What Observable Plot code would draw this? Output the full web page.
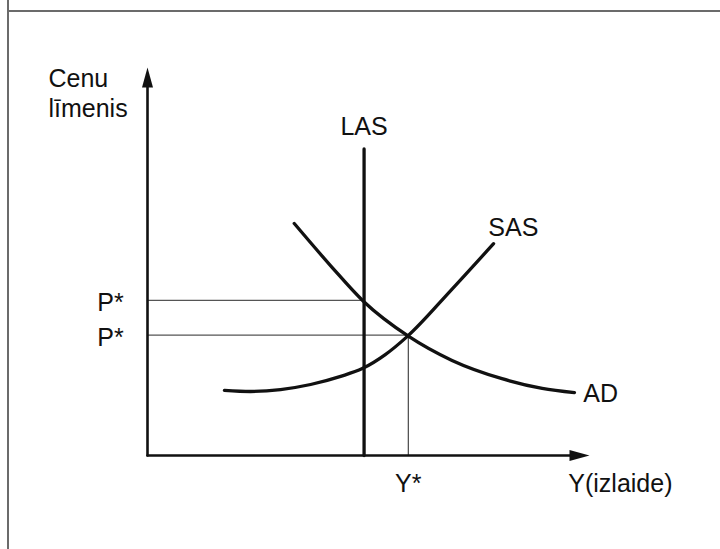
<!DOCTYPE html>
<html>
<head>
<meta charset="utf-8">
<script src="https://cdn.jsdelivr.net/npm/d3@7"></script>
<script src="https://cdn.jsdelivr.net/npm/@observablehq/plot@0.6"></script>
<style>
  html, body { margin: 0; padding: 0; background: #fff; }
  #wrap { position: relative; width: 720px; height: 549px; overflow: hidden; }
  #wrap svg { position: absolute; left: 0; top: 0; }
  .fv { position: absolute; left: 7px; top: 0; width: 2px; height: 549px; background: #6b6b6b; }
  .fh { position: absolute; left: 8px; top: 10px; width: 712px; height: 2px; background: #6b6b6b; }
</style>
</head>
<body>
<div id="wrap"><div class="fv"></div><div class="fh"></div></div>
<script>
// Aggregate demand curve (output, price level), abstract units 0–100
const adX = [33.2, 41.6, 48.9, 59.1, 68.9, 80.2, 89.3, 96.6];
const adY = [59.8, 48.7, 39.7, 30.7, 24.5, 19.8, 17.3, 16.2];
// Short-run aggregate supply curve
const sasX = [17.4, 23.3, 30.1, 36.9, 43.7, 48.6, 53.8, 58.8, 68.6, 78.3];
const sasY = [16.8, 16.5, 17.0, 18.3, 20.4, 22.4, 26.0, 30.7, 42.5, 54.6];
// Long-run aggregate supply (vertical) and equilibrium levels
const lasX = 49;
const lasTop = 79;
const yStar = 59;
const pStar = [40, 31];
// Labels
const yAxisLabel = "Cenu\nlīmenis";
const xAxisLabel = "Y(izlaide)";
const curveLabels = ["LAS", "SAS", "AD"];
const pLabel = "P*";
const yStarLabel = "Y*";

const ad = adX.map((x, i) => ({x, y: adY[i]}));
const sas = sasX.map((x, i) => ({x, y: sasY[i]}));

const arrowHead = {
  draw(ctx) {
    ctx.moveTo(0, 0);
    ctx.lineTo(5.5, 20);
    ctx.lineTo(-5.5, 20);
    ctx.closePath();
  }
};

const font = "'Liberation Sans', Arial, Helvetica, sans-serif";
const ink = "#111";
const fs = 25;

const chart = Plot.plot({
  width: 720,
  height: 549,
  margin: 0,
  x: {domain: [0, 100], range: [147, 589], axis: null},
  y: {domain: [0, 100], range: [455, 67], axis: null},
  style: {fontFamily: font, background: "transparent"},
  marks: [
    // guide lines
    Plot.line([{x: 0, y: pStar[0]}, {x: lasX, y: pStar[0]}], {x: "x", y: "y", stroke: "#555", strokeWidth: 1.3}),
    Plot.line([{x: 0, y: pStar[1]}, {x: yStar, y: pStar[1]}], {x: "x", y: "y", stroke: "#555", strokeWidth: 1.3}),
    Plot.line([{x: yStar, y: 0}, {x: yStar, y: pStar[1]}], {x: "x", y: "y", stroke: "#222", strokeWidth: 1}),
    // axes
    Plot.line([{x: 0, y: 0}, {x: 0, y: 95}], {x: "x", y: "y", stroke: ink, strokeWidth: 2.6}),
    Plot.line([{x: 0, y: 0}, {x: 96, y: 0}], {x: "x", y: "y", stroke: ink, strokeWidth: 2.6}),
    Plot.dot([{x: 0, y: 100}], {x: "x", y: "y", symbol: arrowHead, r: 5, fill: ink, stroke: "none", rotate: 0}),
    Plot.dot([{x: 100, y: 0}], {x: "x", y: "y", symbol: arrowHead, r: 5, fill: ink, stroke: "none", rotate: 90}),
    // curves
    Plot.line([{x: lasX, y: 0}, {x: lasX, y: lasTop}], {x: "x", y: "y", stroke: ink, strokeWidth: 3.3}),
    Plot.line(sas, {x: "x", y: "y", stroke: ink, strokeWidth: 3.3, curve: "monotone-x"}),
    Plot.line(ad, {x: "x", y: "y", stroke: ink, strokeWidth: 3.3, curve: "monotone-x"}),
    // labels
    Plot.text([yAxisLabel], {x: -22.4, y: 87.2, text: d => d, textAnchor: "start", lineAnchor: "bottom", lineHeight: 1.19, fontSize: fs, fill: ink}),
    Plot.text([curveLabels[0]], {x: lasX, y: 82.5, text: d => d, textAnchor: "middle", lineAnchor: "bottom", fontSize: fs, fill: ink}),
    Plot.text([curveLabels[1]], {x: 77.1, y: 56.7, text: d => d, textAnchor: "start", lineAnchor: "bottom", fontSize: fs, fill: ink}),
    Plot.text([curveLabels[2]], {x: 98.6, y: 13.7, text: d => d, textAnchor: "start", lineAnchor: "bottom", fontSize: fs, fill: ink}),
    Plot.text(pStar, {x: -5.4, y: d => d, text: () => pLabel, textAnchor: "end", lineAnchor: "middle", dy: 3, fontSize: fs, fill: ink}),
    Plot.text([yStarLabel], {x: yStar, y: -9.5, text: d => d, textAnchor: "middle", lineAnchor: "bottom", fontSize: fs, fill: ink}),
    Plot.text([xAxisLabel], {x: 95.2, y: -9.5, text: d => d, textAnchor: "start", lineAnchor: "bottom", fontSize: fs, fill: ink})
  ]
});
document.getElementById("wrap").prepend(chart);
</script>
</body>
</html>
